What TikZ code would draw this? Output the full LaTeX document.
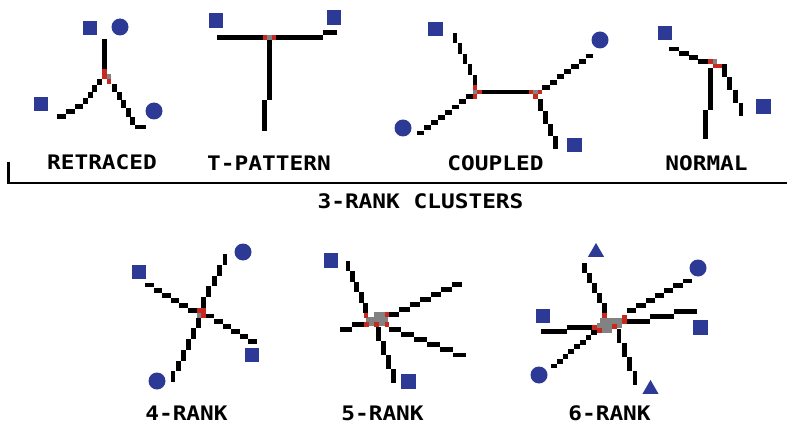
\documentclass[tikz,border=0pt]{standalone}
\usepackage{fontspec}
\newfontfamily\lblfont[FakeStretch=1.14]{DejaVu Sans Mono Bold}
\usetikzlibrary{shapes.geometric}

\definecolor{markblue}{RGB}{44,58,150}
\definecolor{jred}{RGB}{200,40,30}
\definecolor{jgray}{RGB}{130,130,130}

% pixel block size (pt) and its half
\newcommand\pxblk{4.9}
\newcommand\pxhalf{2.45}

% staircase "pixel" line between two named coordinates:
% start/end give the extreme of the major axis and the centre of the minor axis
\newcommand\pixseg[2]{%
  \pgfpointanchor{#1}{center}\pgfgetlastxy\pqxa\pqya
  \pgfpointanchor{#2}{center}\pgfgetlastxy\pqxb\pqyb
  \pgfmathsetmacro\pqdx{\pqxb-\pqxa}%
  \pgfmathsetmacro\pqdy{\pqyb-\pqya}%
  \pgfmathtruncatemacro\pqvert{abs(\pqdy)>abs(\pqdx)}%
  \ifnum\pqvert=1
    \pgfmathtruncatemacro\pqn{round(abs(\pqdx)/\pxblk)+1}%
    \pgfmathsetmacro\pqstep{\pqdx/max(\pqn-1,1)}%
    \pgfmathsetmacro\pqrun{\pqdy/\pqn}%
    \foreach \k in {1,...,\pqn}{%
      \pgfmathsetmacro\pqca{\pqxa+(\k-1)*\pqstep-\pxhalf}%
      \pgfmathsetmacro\pqcb{\pqxa+(\k-1)*\pqstep+\pxhalf}%
      \pgfmathsetmacro\pqra{\pqya+(\k-1)*\pqrun}%
      \pgfmathsetmacro\pqrb{\pqya+\k*\pqrun}%
      \fill[pixink] (\pqca pt,\pqra pt) rectangle (\pqcb pt,\pqrb pt);
    }%
  \else
    \pgfmathtruncatemacro\pqn{round(abs(\pqdy)/\pxblk)+1}%
    \pgfmathsetmacro\pqstep{\pqdy/max(\pqn-1,1)}%
    \pgfmathsetmacro\pqrun{\pqdx/\pqn}%
    \foreach \k in {1,...,\pqn}{%
      \pgfmathsetmacro\pqca{\pqya+(\k-1)*\pqstep-\pxhalf}%
      \pgfmathsetmacro\pqcb{\pqya+(\k-1)*\pqstep+\pxhalf}%
      \pgfmathsetmacro\pqra{\pqxa+(\k-1)*\pqrun}%
      \pgfmathsetmacro\pqrb{\pqxa+\k*\pqrun}%
      \fill[pixink] (\pqra pt,\pqca pt) rectangle (\pqrb pt,\pqcb pt);
    }%
  \fi
}

\tikzset{
  pixink/.style={fill=black},
  sqmark/.style={rectangle, fill=markblue, minimum size=14.5pt, inner sep=0pt},
  circmark/.style={circle, fill=markblue, minimum size=17pt, inner sep=0pt},
  trimark/.style={regular polygon, regular polygon sides=3, fill=markblue, minimum size=18.5pt, inner sep=0pt},
  lbl/.style={font=\lblfont\fontsize{20}{24}\selectfont, anchor=base, inner sep=0pt},
  jr/.style={fill=jred},
  jg/.style={fill=jgray},
}

\begin{document}
\begin{tikzpicture}[x=1pt,y=-1pt]
\useasboundingbox (0,0) rectangle (787,425);
\fill[white] (0,0) rectangle (787,425);

% ---------------- RETRACED ----------------
\node[sqmark]   (r-sq1) at (90,28) {};
\node[circmark] (r-ci1) at (120,27) {};
\node[sqmark]   (r-sq2) at (41,104) {};
\node[circmark] (r-ci2) at (154,111) {};
\coordinate (ra0) at (104.4,39);   \coordinate (ra1) at (104.4,69.3);
\coordinate (rb0) at (99.5,79.3);  \coordinate (rb1) at (85.7,104);
\coordinate (rb2) at (83.4,106.3); \coordinate (rb3) at (57,116.5);
\coordinate (rc0) at (114.5,84);   \coordinate (rc1) at (132.9,124.7);
\coordinate (rc2) at (135.2,127);  \coordinate (rc3) at (146,127);
\pixseg{ra0}{ra1}
\pixseg{rb0}{rb1}\pixseg{rb2}{rb3}
\pixseg{rc0}{rc1}\pixseg{rc2}{rc3}
\fill[jr] (102.1,69.3) rectangle (106.7,79.3);
\fill[jg] (106.7,74.4) rectangle (111.3,79.3);
\fill[jr] (106.7,79.3) rectangle (111.3,84);
\node[lbl] (l-retr) at (102,169.5) {RETRACED};

% ---------------- T-PATTERN ----------------
\node[sqmark] (t-sq1) at (216,20.5) {};
\node[sqmark] (t-sq2) at (334,17.5) {};
\coordinate (tl0) at (262.6,37.5); \coordinate (tl1) at (217,37.5);
\coordinate (tr0) at (276.4,37.5); \coordinate (tr1) at (323,37.5);
\coordinate (tr2) at (323,32.3);   \coordinate (tr3) at (337,32.3);
\coordinate (td0) at (269.5,39.8); \coordinate (td1) at (269.5,100.5);
\coordinate (td2) at (264.9,100.5);\coordinate (td3) at (264.9,131);
\pixseg{tl0}{tl1}
\pixseg{tr0}{tr1}\pixseg{tr2}{tr3}
\pixseg{td0}{td1}\pixseg{td2}{td3}
\fill[jr] (262.6,35.2) rectangle (267.2,39.8);
\fill[jg] (267.2,35.2) rectangle (271.8,39.8);
\fill[jr] (271.8,35.2) rectangle (276.4,39.8);
\node[lbl] (l-tpat) at (269,170) {T-PATTERN};

% ---------------- COUPLED ----------------
\node[sqmark]   (c-sq1) at (435.5,29) {};
\node[circmark] (c-ci1) at (600,40) {};
\node[circmark] (c-ci2) at (403,128) {};
\node[sqmark]   (c-sq2) at (574.5,145) {};
\coordinate (cb0) at (481.9,92);   \coordinate (cb1) at (528.6,92);
\coordinate (cu0) at (475,85.1);   \coordinate (cu1) at (455,33);
\coordinate (cl0) at (472.7,96.6); \coordinate (cl1) at (417,133);
\coordinate (cr0) at (542.4,87.4); \coordinate (cr1) at (593,56);
\coordinate (cd0) at (540.5,98.9); \coordinate (cd1) at (555.5,149);
\pixseg{cb0}{cb1}
\pixseg{cu0}{cu1}
\pixseg{cl0}{cl1}
\pixseg{cr0}{cr1}
\pixseg{cd0}{cd1}
\fill[jr] (472.7,85.1) rectangle (477.3,89.7);
\fill[jg] (472.7,89.7) rectangle (477.3,94.3);
\fill[jr] (477.3,89.7) rectangle (481.9,94.3);
\fill[jr] (472.7,94.3) rectangle (477.3,98.9);
\fill[jr] (528.6,89.7) rectangle (533.2,94.3);
\fill[jg] (533.2,89.7) rectangle (537.8,94.3);
\fill[jr] (537.8,89.7) rectangle (542.4,94.3);
\fill[jr] (533.2,94.3) rectangle (537.8,98.9);
\node[lbl] (l-coup) at (495.5,170) {COUPLED};

% ---------------- NORMAL ----------------
\node[sqmark] (n-sq1) at (665,33) {};
\node[sqmark] (n-sq2) at (763.5,106.5) {};
\coordinate (nl0) at (708.2,61.5); \coordinate (nl1) at (669,49);
\coordinate (nd0) at (710.5,68.4); \coordinate (nd1) at (710.5,110);
\coordinate (nd2) at (705.9,110);  \coordinate (nd3) at (705.9,139);
\coordinate (nr0) at (724.3,64);   \coordinate (nr1) at (741,116);
\pixseg{nl0}{nl1}
\pixseg{nd0}{nd1}\pixseg{nd2}{nd3}
\pixseg{nr0}{nr1}
\fill[jr] (708.2,59.2) rectangle (712.8,63.8);
\fill[jg] (712.8,59.2) rectangle (717.4,63.8);
\fill[jr] (712.8,63.8) rectangle (722,68.4);
\node[lbl] (l-norm) at (706.5,170) {NORMAL};

% ---------------- bracket and group title ----------------
\coordinate (bk0) at (8.5,162);
\coordinate (bk1) at (8.5,183);
\coordinate (bk2) at (787,183);
\draw[line width=2.5pt] (bk0) -- (bk1) -- (bk2);
\node[lbl] (l-three) at (420.5,208.5) {3-RANK CLUSTERS};

% ---------------- 4-RANK ----------------
\node[sqmark]   (f-sq1) at (139,272) {};
\node[circmark] (f-ci1) at (243,252) {};
\node[sqmark]   (f-sq2) at (252,355) {};
\node[circmark] (f-ci2) at (157,381) {};
\coordinate (fa0) at (196.5,310.5); \coordinate (fa1) at (145,285);
\coordinate (fb0) at (203.5,308);   \coordinate (fb1) at (225,254);
\coordinate (fc0) at (205.5,316);   \coordinate (fc1) at (257,341.5);
\coordinate (fd0) at (198.5,317.5); \coordinate (fd1) at (173,382);
\pixseg{fa0}{fa1}
\pixseg{fb0}{fb1}
\pixseg{fc0}{fc1}
\pixseg{fd0}{fd1}
\fill[jr] (197,308) rectangle (205.5,317.5);
\fill[jg] (197,313) rectangle (201,317.5);
\node[lbl] (l-four) at (186.5,420.5) {4-RANK};

% ---------------- 5-RANK ----------------
\node[sqmark] (g-sq1) at (331,260.5) {};
\node[sqmark] (g-sq2) at (408.5,381.5) {};
\coordinate (ga0) at (365.7,313);   \coordinate (ga1) at (348,261);
\coordinate (gb0) at (364,324.6);   \coordinate (gb1) at (340,329.2);
\coordinate (gc0) at (388.5,314.5); \coordinate (gc1) at (462,284.5);
\coordinate (gd0) at (388.5,329.6); \coordinate (gd1) at (466,355);
\coordinate (ge0) at (378.5,327);   \coordinate (ge1) at (393.5,383);
\pixseg{ga0}{ga1}
\pixseg{gb0}{gb1}
\pixseg{gc0}{gc1}
\pixseg{gd0}{gd1}
\pixseg{ge0}{ge1}
\fill[jg] (366,317) rectangle (388,326);
\fill[jg] (374,312) rectangle (386,317);
\fill[jr] (363.5,313) rectangle (368,318);
\fill[jr] (384.5,312) rectangle (388.5,317);
\fill[jr] (364,322) rectangle (368.5,327);
\fill[jr] (374,322) rectangle (378.5,327);
\fill[jr] (384.5,322) rectangle (388.5,327);
\node[lbl] (l-five) at (382.5,420.5) {5-RANK};

% ---------------- 6-RANK ----------------
\node[trimark]  (h-tr1) at (596,252.2) {};
\node[circmark] (h-ci1) at (698,268) {};
\node[sqmark]   (h-sq1) at (543,316) {};
\node[sqmark]   (h-sq2) at (700.5,327.5) {};
\node[circmark] (h-ci2) at (539,375) {};
\node[trimark]  (h-tr2) at (650.5,389.2) {};
\coordinate (ha0) at (604.5,313);   \coordinate (ha1) at (584.5,263);
\coordinate (hb0) at (592,327.3);   \coordinate (hb1) at (541,331.6);
\coordinate (hc0) at (597,332.5);   \coordinate (hc1) at (551,366);
\coordinate (hd0) at (619,329);     \coordinate (hd1) at (635,385);
\coordinate (he0) at (627,310.5);   \coordinate (he1) at (692,281);
\coordinate (hf0) at (627,321.5);   \coordinate (hf1) at (697,311.5);
\pixseg{ha0}{ha1}
\pixseg{hb0}{hb1}
\pixseg{hc0}{hc1}
\pixseg{hd0}{hd1}
\pixseg{he0}{he1}
\pixseg{hf0}{hf1}
\fill[jg] (600,318) rectangle (622,328);
\fill[jg] (597,323) rectangle (612,333);
\fill[jr] (602,313) rectangle (607,318);
\fill[jr] (622,315) rectangle (627,324);
\fill[jr] (592,325) rectangle (597,329.6);
\fill[jr] (597,328) rectangle (602,333);
\fill[jr] (612,324) rectangle (617,329);
\node[lbl] (l-six) at (609.5,420.5) {6-RANK};
\end{tikzpicture}
\end{document}
